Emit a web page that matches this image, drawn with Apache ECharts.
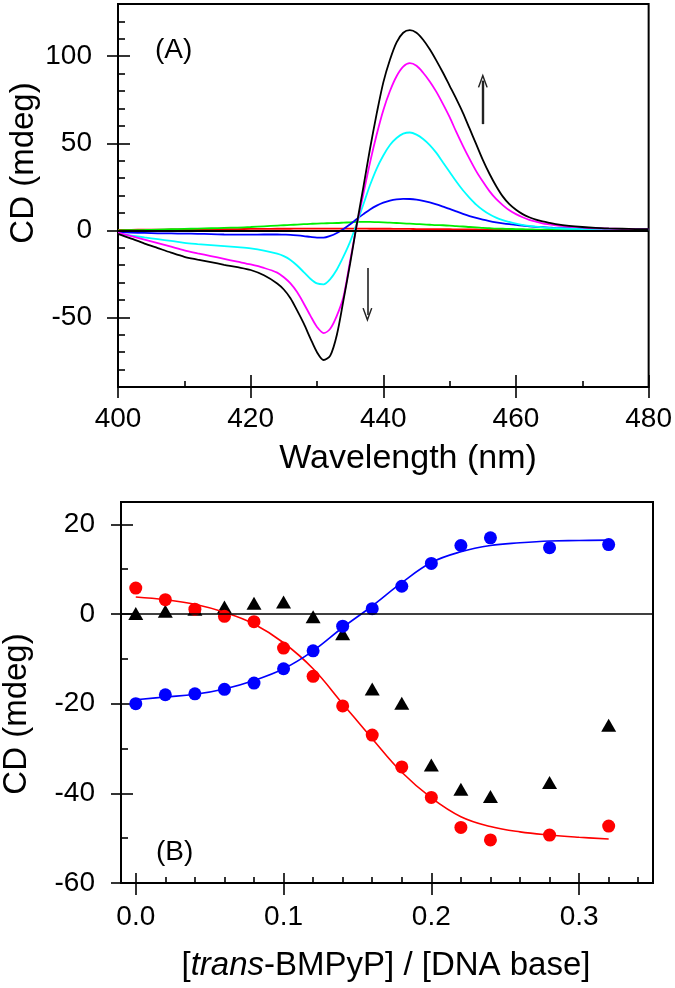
<!DOCTYPE html>
<html>
<head>
<meta charset="utf-8">
<script src="https://cdn.jsdelivr.net/npm/echarts@6/dist/echarts.min.js"></script>
<style>
html,body{margin:0;padding:0;background:#fff;}
#chart{width:675px;height:988px;}
</style>
</head>
<body>
<div id="chart"></div>
<script>
// ---------- Panel A data: CD spectra ----------
const wavelengths = [400,402,404,406,408,410,412,414,416,418,420,422,424,
  425,426,427,428,429,430,431,432,433,434,435,436,437,438,439,440,441,442,443,444,445,
  446,447,448,449,450,451,452,453,454,455,456,457,458,459,460,461,462,463,464,465,466,
  468,470,472,474,476,478,480];
const cdBlack = [-2,-4.8,-7.6,-10.2,-12.8,-15.2,-16.8,-18.3,-19.8,-21.2,-22.8,-25.8,-30.5,
  -34,-39,-46,-53.5,-62,-70,-74.5,-72,-60,-40,-19,3.5,25,47,67,85,98,108,113.5,115,113.5,
  109.5,104,97.5,90.5,83,75.5,67.5,58.5,49.5,40.5,32.5,25.5,19.5,15,11.8,9.3,7.5,6.1,5.1,4.3,3.6,
  2.6,1.9,1.4,1.1,0.9,0.7,0.6];
const cdMagenta = [-1.3,-3.3,-5.3,-7.3,-9.4,-11.5,-13.2,-14.8,-16.4,-18,-19.6,-21.6,-24.3,
  -27,-30.5,-35.5,-42,-49,-55.5,-59,-56.5,-49,-38,-17.5,3,21,39,55,69,80,88.5,94,96,94.5,
  90.5,85.5,79.5,72.5,65,56.5,48.5,41,34,28,22.5,18,14.5,11.5,9.3,7.5,6,5,4,3.4,2.9,
  2.1,1.6,1.2,1,0.8,0.6,0.5];
const cdCyan = [-1.9,-3,-4.1,-5.1,-6.1,-7.2,-7.9,-8.5,-9.1,-9.7,-10.4,-11.6,-13.4,
  -14.8,-17,-20.2,-24,-27.8,-30.5,-31,-28,-22.5,-15,-6.5,4,15,26,35.5,43,49,53,55.5,56.2,55,
  52.5,49,44.5,39,33.5,28,23,18.7,14.8,11.7,9.2,7.3,5.9,4.8,3.8,3.1,2.5,2.1,1.7,1.4,1.2,
  0.9,0.7,0.5,0.4,0.3,0.3,0.2];
const cdBlue = [-1.0,-1.3,-1.5,-1.7,-1.8,-1.9,-2.0,-2.2,-2.4,-2.5,-2.5,-2.4,-2.4,
  -2.5,-2.6,-2.9,-3.3,-3.8,-4.2,-4.2,-3.2,-1.5,0.8,3.5,6.5,9.3,12,14.2,15.9,17.1,17.8,18.1,18,17.6,
  16.9,16,14.9,13.6,12.3,10.9,9.5,8.2,7.1,6.1,5.3,4.6,4,3.5,3.1,2.7,2.3,2,1.8,1.6,1.4,
  1.2,1,0.8,0.7,0.6,0.5,0.5];
const cdGreen = [0,0.1,0.2,0.4,0.6,0.8,1.0,1.2,1.4,1.6,1.9,2.3,2.7,
  2.9,3.1,3.3,3.5,3.7,3.9,4.0,4.1,4.2,4.4,4.6,4.8,4.8,4.8,4.7,4.6,4.4,4.2,4.0,3.8,3.6,
  3.4,3.2,3.0,2.9,2.7,2.4,2.2,1.9,1.7,1.4,1.2,1.0,0.9,0.8,0.7,0.6,0.5,0.45,0.4,0.35,0.3,
  0.25,0.2,0.2,0.15,0.1,0.1,0.1];
const cdRed = [0.3,0.3,0.4,0.4,0.5,0.5,0.6,0.6,0.7,0.7,0.8,0.8,0.9,
  0.9,0.9,1.0,1.0,1.0,1.0,1.0,1.0,1.0,1.0,1.0,1.0,1.0,0.9,0.9,0.9,0.9,0.8,0.8,0.8,0.7,
  0.7,0.7,0.6,0.6,0.6,0.5,0.5,0.5,0.5,0.4,0.4,0.4,0.4,0.3,0.3,0.3,0.3,0.3,0.3,0.2,0.2,
  0.2,0.2,0.2,0.1,0.1,0.1,0.1];
// arrows (data units): [wavelength, CD start, CD end]
const arrowUp = [455, 61, 86];
const arrowDown = [437.6, -21.7, -48.6];
// ticks panel A
const xTicksA = [400,420,440,460,480];
const xMinorA = [410,430,450,470];
const yTicksA = [-50,0,50,100];
const yMinorA = [-80,-70,-60,-40,-30,-20,-10,10,20,30,40,60,70,80,90,110,120];

// ---------- Panel B data: titration ----------
const ratio = [0,0.02,0.04,0.06,0.08,0.10,0.12,0.14,0.16,0.18,0.20,0.22,0.24,0.28,0.32];
const cdRedPts = [5.8,3.2,1.1,-0.5,-1.7,-7.6,-13.9,-20.5,-27.0,-34.1,-40.9,-47.6,-50.4,-49.3,-47.3];
const cdBluePts = [-20.0,-18.0,-17.8,-16.8,-15.4,-12.2,-8.2,-2.7,1.2,6.2,11.3,15.3,17.0,14.8,15.5];
const cdTriPts = [0.1,0.6,1.1,1.6,2.4,2.7,-0.6,-4.4,-16.7,-19.9,-33.7,-39.1,-40.7,-37.6,-24.8];
const ratioFit = [0,0.02,0.04,0.06,0.08,0.10,0.12,0.14,0.16,0.18,0.20,0.22,0.24,0.26,0.28,0.30,0.32];
const redFit = [3.8,3.2,2.2,0.4,-2.2,-6.4,-12.2,-20.0,-27.8,-35.3,-41.0,-45.2,-47.4,-48.6,-49.3,-49.8,-50.2];
const blueFit = [-19.1,-18.5,-17.9,-16.7,-14.8,-12.2,-8.2,-3.0,1.8,7.0,11.5,13.9,15.3,15.9,16.3,16.4,16.5];
// ticks panel B
const xTicksB = [0,0.1,0.2,0.3];
const xMinorB = [0.02,0.04,0.06,0.08,0.12,0.14,0.16,0.18,0.22,0.24,0.26,0.28,0.32,0.34];
const yTicksB = [-60,-40,-20,0,20];
const yMinorB = [-50,-30,-10,10];

const FONT = 'Liberation Sans, Arial, sans-serif';
const pair = (xs, ys) => xs.map((x, i) => [x, ys[i]]);

function axisSet(dim, grid, min, max, ticks, minor, labelFmt, labelMargin, outLen, inLen, minLen) {
  const base = {
    gridIndex: grid, type: 'value', min: min, max: max,
    position: dim === 'x' ? 'bottom' : 'left',
    axisLine: {show: false, onZero: false}, splitLine: {show: false}
  };
  const ts = {color: '#000', width: 1.6};
  return [
    Object.assign({}, base, {
      axisTick: {show: true, inside: false, length: outLen, customValues: ticks, lineStyle: ts},
      axisLabel: {show: true, customValues: ticks, margin: labelMargin, fontSize: 28,
        color: '#000', fontFamily: FONT, formatter: labelFmt}
    }),
    Object.assign({}, base, {
      axisTick: {show: true, inside: true, length: inLen, customValues: ticks, lineStyle: ts},
      axisLabel: {show: false}
    }),
    Object.assign({}, base, {
      axisTick: {show: true, inside: true, length: minLen, customValues: minor, lineStyle: ts},
      axisLabel: {show: false}
    })
  ];
}

const chart = echarts.init(document.getElementById('chart'), null, {renderer: 'canvas'});

const arrowHead = 'path://M5,0 L10,13 L8.6,13.4 L5,4 L1.4,13.4 L0,13 Z';

const lineSeries = (name, data, color) => ({
  name: name, type: 'line', xAxisIndex: 0, yAxisIndex: 0, data: pair(wavelengths, data),
  showSymbol: false, smooth: 0.3, lineStyle: {color: color, width: 1.8}, itemStyle: {color: color},
  silent: true, animation: false
});

const option = {
  animation: false,
  backgroundColor: '#fff',
  grid: [
    {left: 118, top: 4, width: 532, height: 383, show: true, borderColor: '#000', borderWidth: 2, backgroundColor: 'transparent'},
    {left: 121, top: 502, width: 532, height: 381, show: true, borderColor: '#000', borderWidth: 2, backgroundColor: 'transparent'}
  ],
  xAxis: [].concat(
    axisSet('x', 0, 400, 480, xTicksA, xMinorA, v => String(v), 18, 11, 12, 6),
    axisSet('x', 1, -0.01, 0.35, xTicksB, xMinorB, v => v.toFixed(1), 20, 12, 10, 6)
  ),
  yAxis: [].concat(
    axisSet('y', 0, -90, 130, yTicksA, yMinorA, v => String(v), 26, 11, 12, 7),
    axisSet('y', 1, -60, 25, yTicksB, yMinorB, v => String(v), 26, 10, 12, 7)
  ),
  series: [
    {
      type: 'line', xAxisIndex: 0, yAxisIndex: 0, data: [], silent: true,
      markLine: {
        silent: true, symbol: ['none', 'none'], animation: false,
        label: {show: false},
        lineStyle: {color: '#000', width: 2, type: 'solid'},
        data: [{yAxis: 0}]
      }
    },
    lineSeries('red', cdRed, '#ff0000'),
    lineSeries('green', cdGreen, '#00ee00'),
    lineSeries('blue', cdBlue, '#0000ff'),
    lineSeries('cyan', cdCyan, '#00ffff'),
    lineSeries('magenta', cdMagenta, '#ff00ff'),
    lineSeries('black', cdBlack, '#000000'),
    {
      type: 'line', xAxisIndex: 0, yAxisIndex: 0, data: [], silent: true,
      markLine: {
        silent: true, animation: false,
        symbol: ['none', arrowHead], symbolSize: [10, 14], symbolOffset: [0, 0],
        label: {show: false},
        data: [
          [{coord: [arrowUp[0], arrowUp[1]], lineStyle: {color: '#222', width: 2.4, type: 'solid'}},
           {coord: [arrowUp[0], arrowUp[2]]}],
          [{coord: [arrowDown[0], arrowDown[1]], lineStyle: {color: '#222', width: 1.6, type: 'solid'}},
           {coord: [arrowDown[0], arrowDown[2]]}]
        ]
      }
    },
    // Panel B
    {
      type: 'line', xAxisIndex: 3, yAxisIndex: 3, data: pair(ratioFit, redFit),
      showSymbol: false, smooth: 0.4, lineStyle: {color: '#ff0000', width: 1.6}, silent: true,
      markLine: {
        silent: true, symbol: ['none', 'none'], label: {show: false}, animation: false,
        lineStyle: {color: '#000', width: 1.6, type: 'solid'},
        data: [{yAxis: 0}]
      }
    },
    {
      type: 'line', xAxisIndex: 3, yAxisIndex: 3, data: pair(ratioFit, blueFit),
      showSymbol: false, smooth: 0.4, lineStyle: {color: '#0000ff', width: 1.6}, silent: true
    },
    {
      type: 'scatter', xAxisIndex: 3, yAxisIndex: 3, data: pair(ratio, cdTriPts),
      symbol: 'triangle', symbolSize: [15, 13], itemStyle: {color: '#000', opacity: 1}, silent: true
    },
    {
      type: 'scatter', xAxisIndex: 3, yAxisIndex: 3, data: pair(ratio, cdRedPts),
      symbol: 'circle', symbolSize: 13, itemStyle: {color: '#ff0000', opacity: 1}, silent: true
    },
    {
      type: 'scatter', xAxisIndex: 3, yAxisIndex: 3, data: pair(ratio, cdBluePts),
      symbol: 'circle', symbolSize: 13, itemStyle: {color: '#0000ff', opacity: 1}, silent: true
    }
  ],
  graphic: [
    {type: 'text', x: 155, y: 50, style: {text: '(A)', fontSize: 28, fontFamily: FONT, fill: '#000', textAlign: 'left', textVerticalAlign: 'middle'}},
    {type: 'text', x: 156, y: 852, style: {text: '(B)', fontSize: 28, fontFamily: FONT, fill: '#000', textAlign: 'left', textVerticalAlign: 'middle'}},
    {type: 'text', x: 24, y: 163, rotation: Math.PI / 2, style: {text: 'CD (mdeg)', fontSize: 33, fontFamily: FONT, fill: '#000', textAlign: 'center', textVerticalAlign: 'middle'}},
    {type: 'text', x: 17, y: 714, rotation: Math.PI / 2, style: {text: 'CD (mdeg)', fontSize: 33, fontFamily: FONT, fill: '#000', textAlign: 'center', textVerticalAlign: 'middle'}},
    {type: 'text', x: 408, y: 459, style: {text: 'Wavelength (nm)', fontSize: 34, fontFamily: FONT, fill: '#000', textAlign: 'center', textVerticalAlign: 'middle'}},
    {type: 'text', x: 386, y: 966, style: {
      text: '[{i|trans}-BMPyP] / [DNA base]', fontSize: 33, fontFamily: FONT, fill: '#000',
      textAlign: 'center', textVerticalAlign: 'middle',
      rich: {i: {fontStyle: 'italic', fontSize: 33, fontFamily: FONT, fill: '#000'}}
    }}
  ]
};
chart.setOption(option);
</script>
</body>
</html>
